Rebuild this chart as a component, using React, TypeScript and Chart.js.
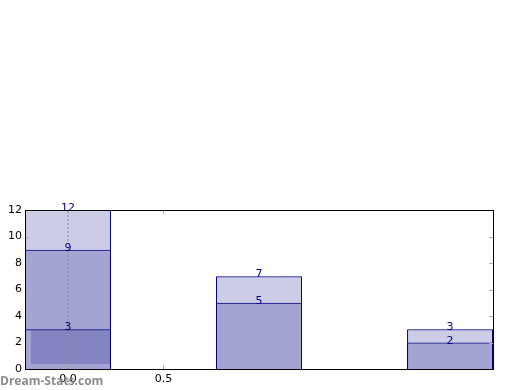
import React, { useEffect, useRef } from "react";
import { Chart, registerables } from "chart.js";

Chart.register(...registerables);

// ---- data ----
const categories = [0, 1, 2];
const seriesTotal = [12, 7, 3];
const seriesMid = [9, 5, 2];
const seriesLow = [3, null, null];
const xTickValues = [0, 0.5];
const yTickStep = 2;
const yMax = 12;
const watermark = "Dream-Stats.com";

const FILL = "rgba(0,0,128,0.2)";
const EDGE = "#000080";

const toPoints = (vals: (number | null)[]) =>
  categories
    .map((c, i) => (vals[i] == null ? null : { x: c, y: vals[i] as number }))
    .filter((p) => p !== null) as { x: number; y: number }[];

const framePlugin = {
  id: "frame",
  afterDatasetsDraw(chart: any) {
    const { ctx, chartArea: a, scales } = chart;
    ctx.save();
    // value labels
    ctx.fillStyle = EDGE;
    ctx.font = "11px 'DejaVu Sans'";
    ctx.textAlign = "center";
    ctx.textBaseline = "alphabetic";
    chart.data.datasets.forEach((ds: any, di: number) => {
      if (!ds.showLabels) return;
      const meta = chart.getDatasetMeta(di);
      meta.data.forEach((el: any, i: number) => {
        const p = ds.data[i];
        ctx.fillText(String(p.y), el.x, scales.y.getPixelForValue(p.y) + 1);
      });
    });
    // tick marks inside
    ctx.strokeStyle = "#b0b0b0";
    ctx.lineWidth = 1;
    ctx.beginPath();
    scales.y.ticks.forEach((t: any) => {
      const y = Math.round(scales.y.getPixelForValue(t.value)) + 0.5;
      ctx.moveTo(a.left, y);
      ctx.lineTo(a.left + 4, y);
      ctx.moveTo(a.right, y);
      ctx.lineTo(a.right - 4, y);
    });
    scales.x.ticks.forEach((t: any) => {
      const x = Math.round(scales.x.getPixelForValue(t.value)) + 0.5;
      ctx.moveTo(x, a.bottom);
      ctx.lineTo(x, a.bottom - 4);
      ctx.moveTo(x, a.top);
      ctx.lineTo(x, a.top + 4);
    });
    ctx.stroke();
    // frame
    ctx.strokeStyle = "#000";
    ctx.strokeRect(
      Math.round(a.left) + 0.5,
      Math.round(a.top) + 0.5,
      Math.round(a.right - a.left),
      Math.round(a.bottom - a.top)
    );
    ctx.restore();
  },
  afterDraw(chart: any) {
    const { ctx } = chart;
    ctx.save();
    ctx.fillStyle = "rgba(128,128,128,0.9)";
    ctx.font = "bold 12px 'Open Sans'";
    ctx.textAlign = "left";
    ctx.textBaseline = "alphabetic";
    ctx.fillText(watermark, 0, 385);
    ctx.restore();
  },
};

export default function App() {
  const ref = useRef<HTMLCanvasElement | null>(null);
  useEffect(() => {
    document.body.style.margin = "0";
    const barCommon = {
      type: "bar" as const,
      grouped: false,
      categoryPercentage: 1,
      barPercentage: 0.9,
      order: 1,
    };
    const chart = new Chart(ref.current as HTMLCanvasElement, {
      type: "bar",
      data: {
        datasets: [
          {
            ...barCommon,
            data: toPoints(seriesTotal),
            backgroundColor: FILL,
            borderColor: EDGE,
            borderWidth: 1,
            showLabels: true,
          } as any,
          {
            ...barCommon,
            data: toPoints(seriesMid),
            backgroundColor: FILL,
            borderColor: EDGE,
            borderWidth: 1,
            showLabels: true,
          } as any,
          {
            ...barCommon,
            data: toPoints(seriesLow),
            backgroundColor: "rgba(0,0,0,0)",
            borderColor: EDGE,
            borderWidth: 1,
            showLabels: true,
          } as any,
          {
            ...barCommon,
            data: toPoints(seriesLow),
            backgroundColor: FILL,
            borderColor: "rgba(0,0,0,0)",
            borderWidth: { top: 1, left: 6, bottom: 5, right: 1 },
            borderSkipped: false,
          } as any,
          {
            type: "line",
            data: [
              { x: 0, y: 0 },
              { x: 0, y: yMax },
            ],
            borderColor: "#888888",
            borderWidth: 1,
            borderDash: [2, 2],
            pointRadius: 0,
            order: 0,
          } as any,
        ],
      },
      options: {
        animation: false,
        responsive: false,
        events: [],
        layout: { padding: { top: 210, right: 27, left: 0, bottom: 0 } },
        plugins: {
          legend: { display: false },
          tooltip: { enabled: false },
        },
        scales: {
          x: {
            type: "linear",
            offset: false,
            min: -0.225,
            max: 2.225,
            grid: { display: false, offset: false, drawTicks: false },
            border: { display: false },
            afterBuildTicks: (s: any) => {
              s.ticks = xTickValues.map((v) => ({ value: v }));
            },
            afterFit: (s: any) => {
              s.height = 21;
            },
            ticks: {
              padding: 4,
              color: "#000",
              font: { family: "'DejaVu Sans'", size: 11 },
              maxRotation: 0,
              callback: (v: any) => Number(v).toFixed(1),
            },
          },
          y: {
            min: 0,
            max: yMax,
            grid: { display: false, drawTicks: false },
            border: { display: false },
            afterFit: (s: any) => {
              s.width = 25;
            },
            ticks: {
              stepSize: yTickStep,
              padding: 3,
              color: "#000",
              font: { family: "'DejaVu Sans'", size: 11 },
            },
          },
        },
      },
      plugins: [framePlugin],
    } as any);
    return () => chart.destroy();
  }, []);
  return <canvas ref={ref} width={520} height={390} />;
}
